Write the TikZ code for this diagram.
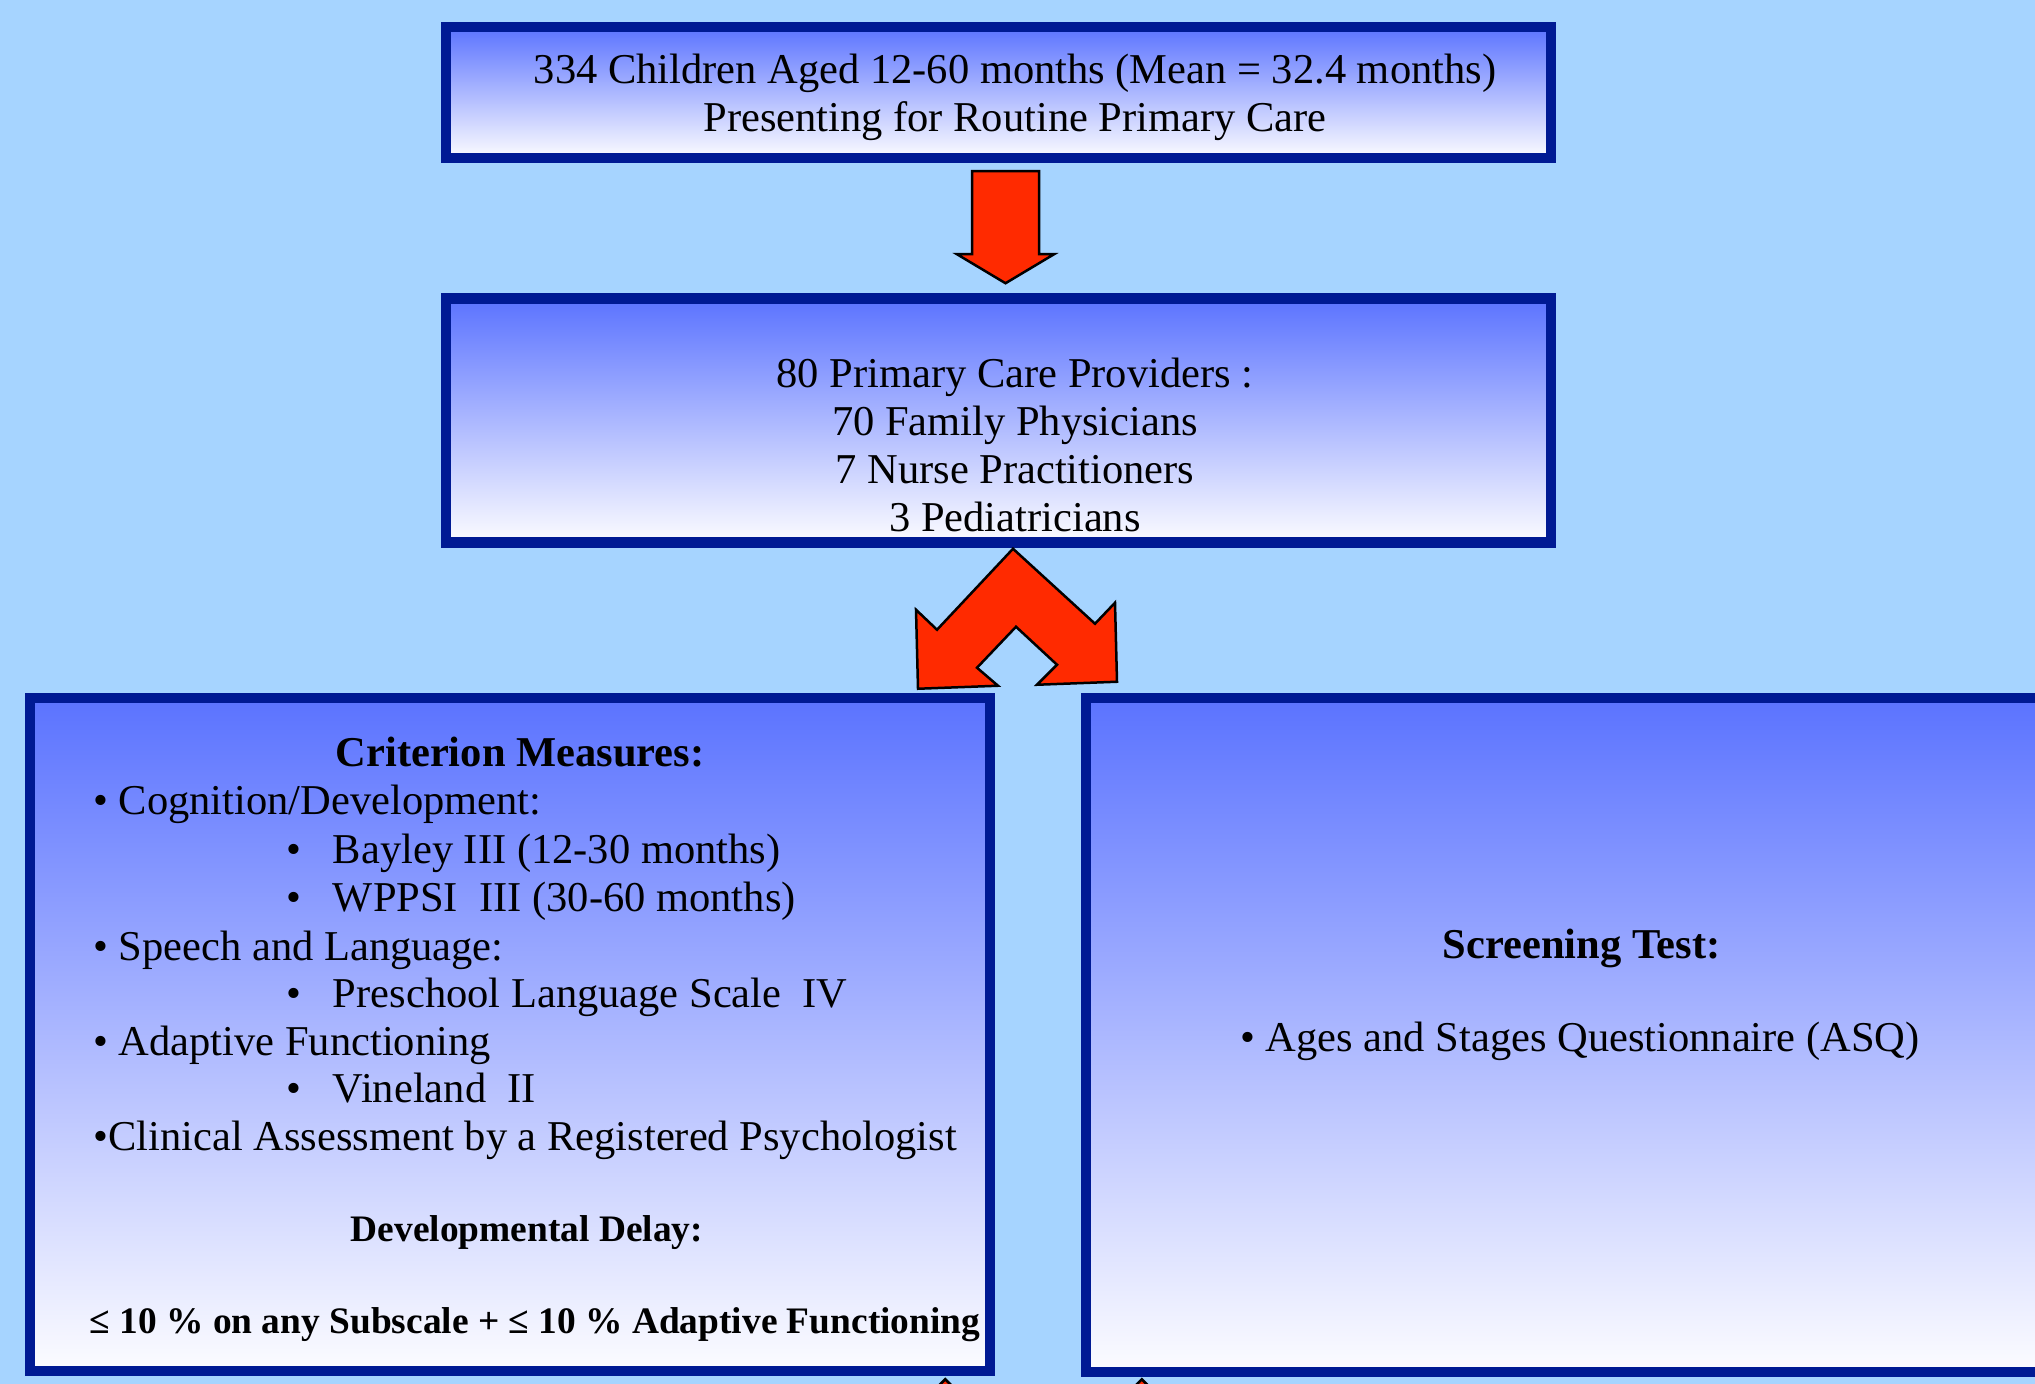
\documentclass[tikz,border=0pt]{standalone}
\usepackage{fontspec}
\setmainfont{Liberation Serif}
\usetikzlibrary{positioning}
\definecolor{skybg}{RGB}{166,212,255}
\definecolor{navyline}{RGB}{0,26,148}
\definecolor{boxtop}{RGB}{91,115,255}
\definecolor{boxbot}{RGB}{252,252,255}
\definecolor{arrred}{RGB}{255,42,0}
\tikzset{
  sbox/.style={draw=navyline, line width=5.25pt, top color=boxtop, bottom color=boxbot, inner sep=0pt},
  stxt/.style={font=\fontsize{21.25}{24}\selectfont, align=center, inner sep=0pt},
  ltxt/.style={font=\fontsize{21.25}{24}\selectfont, anchor=base west, inner sep=0pt},
  btxt/.style={font=\fontsize{18.7}{22}\selectfont\bfseries, anchor=base, inner sep=0pt},
  barr/.style={draw=black, line width=1.25pt, fill=arrred, line join=miter}
}
\newcommand{\subitm}{\makebox[23.5pt][l]{•}}

\begin{document}
\begin{tikzpicture}[x=0.5pt, y=-0.5pt]
\path[use as bounding box, fill=skybg] (0,0) rectangle (2035,1384);
\clip (0,0) rectangle (2035,1384);

% boxes
\node[sbox, minimum width=552.5pt, minimum height=65.5pt] (pop) at (998.5,92.5) {};
\node[sbox, minimum width=552.5pt, minimum height=122pt, below=65pt of pop] (prov) {};
\node[sbox, minimum width=480pt, minimum height=336.5pt] (crit) at (510,1034.5) {};
\node[sbox, minimum width=495pt, minimum height=337pt] (screen) at (1581,1035) {};

% texts (base = last line)
\node[stxt, anchor=base] (popText) at (1015,132) {334 Children Aged 12-60 months (Mean = 32.4 months)\\Presenting for Routine Primary Care};
\node[stxt, anchor=base] (provText) at (1015,531.7) {80 Primary Care Providers :\\70 Family Physicians\\7 Nurse Practitioners\\3 Pediatricians};

\node[ltxt, anchor=base, font=\fontsize{21.25}{24}\selectfont\bfseries] (critHead) at (520,766.7) {Criterion Measures:};
\node[ltxt] (cog) at (93,815) {• Cognition/Development:};
\node[ltxt] (bayley) at (285.6,863.3) {\subitm Bayley III (12-30 months)};
\node[ltxt] (wppsi) at (285.6,911.7) {\subitm WPPSI\ \ III (30-60 months)};
\node[ltxt] (speech) at (93,960) {• Speech and Language:};
\node[ltxt] (pls) at (285.6,1007.3) {\subitm Preschool Language Scale\ \ IV};
\node[ltxt] (adapt) at (93,1055) {• Adaptive Functioning};
\node[ltxt] (vine) at (285.6,1102.3) {\subitm Vineland\ \ II};
\node[ltxt] (clin) at (93,1150) {•Clinical Assessment by a Registered Psychologist};
\node[btxt] (delayHead) at (527,1241.7) {Developmental Delay:};
\node[btxt] (delayRule) at (535,1333.3) {≤ 10 \% on any Subscale + ≤ 10 \% Adaptive Functioning};

\node[ltxt, anchor=base, font=\fontsize{21.25}{24}\selectfont\bfseries] (scrHead) at (1581.6,958.3) {Screening Test:};
\node[ltxt, anchor=base] (asq) at (1580,1051.7) {• Ages and Stages Questionnaire (ASQ)};

% block arrows
\draw[barr] ([shift={(-26.5,8)}]pop.south) -- ++(67,0) -- ++(0,83) -- ++(15,0) -- ++(-48.5,29) -- ++(-48.5,-29) -- ++(15,0) -- cycle;
\draw[barr] ([shift={(14.5,1)}]prov.south) -- ++(82,75) -- ++(20,-21) -- ++(2,79) -- ++(-80,3) -- ++(20,-20) -- ++(-41,-38) -- ++(-39,41) -- ++(21,18) -- ++(-80,3) -- ++(-2,-79) -- ++(21,20) -- cycle;
\draw[barr] ([shift={(-50,3)}]crit.south east) -- ++(30,30) -- ++(-60,0) -- cycle;
\draw[barr] ([shift={(61,2)}]screen.south west) -- ++(30,30) -- ++(-60,0) -- cycle;
\end{tikzpicture}
\end{document}
